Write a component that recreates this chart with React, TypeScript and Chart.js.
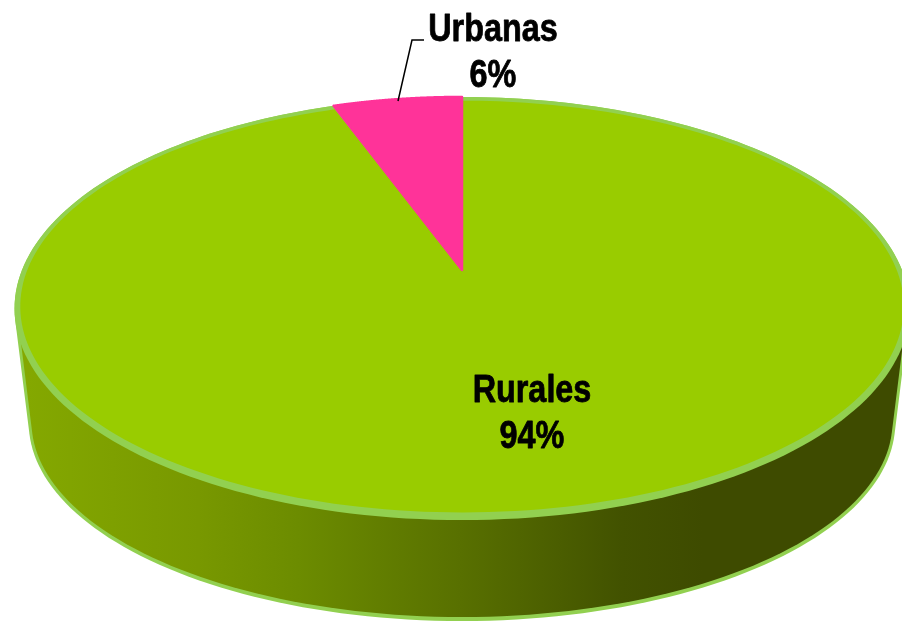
import React, { useEffect, useRef } from "react";
import { Chart, registerables } from "chart.js";

Chart.register(...registerables);

const categories = ["Rurales", "Urbanas"];
const shares = [94.45, 5.55];
const sliceColors = ["#99CC00", "#FF3399"];

type Pt = { x: number; y: number };

// Perspective of the pie's top face and of its lower rim
const X0 = 462;
const K = 0.182;
const topFace = { c: 440, a: 155.4, b: 270 };
const lowFace = { c: 426, a: 121, b: 387 };
const RIM = "#92D050";

const project = (f: { c: number; a: number; b: number }, u: number, v: number): Pt => {
  const w = 1 - K * v;
  return { x: X0 + (f.c * u) / w, y: (f.a * v + f.b) / w };
};

const ring = (f: any, su: number, sv: number, start = 0, end = Math.PI * 2, n = 240): Pt[] => {
  const out: Pt[] = [];
  for (let i = 0; i <= n; i++) {
    const t = start + ((end - start) * i) / n;
    out.push(project(f, Math.cos(t) * su, Math.sin(t) * sv));
  }
  return out;
};

const hull = (pts: Pt[]): Pt[] => {
  const p = [...pts].sort((a, b) => a.x - b.x || a.y - b.y);
  const cross = (o: Pt, a: Pt, b: Pt) => (a.x - o.x) * (b.y - o.y) - (a.y - o.y) * (b.x - o.x);
  const lo: Pt[] = [];
  for (const q of p) {
    while (lo.length >= 2 && cross(lo[lo.length - 2], lo[lo.length - 1], q) <= 0) lo.pop();
    lo.push(q);
  }
  const up: Pt[] = [];
  for (const q of p.reverse()) {
    while (up.length >= 2 && cross(up[up.length - 2], up[up.length - 1], q) <= 0) up.pop();
    up.push(q);
  }
  return lo.slice(0, -1).concat(up.slice(0, -1));
};

const trace = (ctx: CanvasRenderingContext2D, pts: Pt[]) => {
  ctx.beginPath();
  pts.forEach((p, i) => (i ? ctx.lineTo(p.x, p.y) : ctx.moveTo(p.x, p.y)));
  ctx.closePath();
};

const piePlugin = {
  id: "perspectivePie",
  beforeDatasetsDraw(chart: any) {
    const ctx: CanvasRenderingContext2D = chart.ctx;
    const arcs = chart.getDatasetMeta(0).data;
    ctx.save();

    // side wall
    trace(ctx, hull([...ring(topFace, 1, 1), ...ring(lowFace, 1, 1)]));
    ctx.fillStyle = RIM;
    ctx.fill();
    const g = ctx.createLinearGradient(0, 0, 902, 0);
    g.addColorStop(0.03, "#84A800");
    g.addColorStop(0.22, "#789800");
    g.addColorStop(0.33, "#6C8C00");
    g.addColorStop(0.51, "#587000");
    g.addColorStop(0.69, "#425200");
    g.addColorStop(0.78, "#3E4B00");
    g.addColorStop(1, "#3E4B00");
    trace(ctx, hull([...ring(topFace, 0.994, 0.99), ...ring(lowFace, 0.994, 0.986)]));
    ctx.fillStyle = g;
    ctx.fill();

    // top face rim
    trace(ctx, ring(topFace, 1, 1));
    ctx.fillStyle = RIM;
    ctx.fill();

    // slices
    arcs.forEach((arc: any, i: number) => {
      const small = shares[i] < 50;
      const su = small ? 1 : 0.988;
      const sv = small ? 1 : 0.975;
      const pts = [project(topFace, 0, 0), ...ring(topFace, su, sv, arc.startAngle, arc.endAngle)];
      trace(ctx, pts);
      ctx.fillStyle = sliceColors[i];
      ctx.fill();
      if (small) {
        ctx.strokeStyle = sliceColors[i];
        ctx.lineWidth = 2.5;
        ctx.lineJoin = "round";
        ctx.stroke();
      }
    });
    ctx.restore();
    return false;
  },
  afterDraw(chart: any) {
    const ctx: CanvasRenderingContext2D = chart.ctx;
    ctx.save();

    // leader line
    ctx.beginPath();
    ctx.moveTo(398, 101);
    ctx.lineTo(412, 40);
    ctx.lineTo(424, 40);
    ctx.strokeStyle = "#000";
    ctx.lineWidth = 1.5;
    ctx.stroke();

    // labels
    const spots = [
      { x: 532, y: [402, 448] },
      { x: 493, y: [41, 87] },
    ];
    const total = shares.reduce((s, v) => s + v, 0);
    ctx.fillStyle = "#000";
    ctx.strokeStyle = "#000";
    ctx.lineWidth = 0.8;
    ctx.lineJoin = "round";
    ctx.font = 'bold 39px "Liberation Sans"';
    ctx.textAlign = "center";
    categories.forEach((name, i) => {
      const lines = [name, `${Math.round((shares[i] / total) * 100)}%`];
      lines.forEach((t, j) => {
        ctx.save();
        ctx.translate(spots[i].x, spots[i].y[j]);
        ctx.scale(0.83, 1);
        ctx.fillText(t, 0, 0);
        ctx.strokeText(t, 0, 0);
        ctx.restore();
      });
    });
    ctx.restore();
  },
};

export default function App() {
  const ref = useRef<HTMLCanvasElement>(null);
  useEffect(() => {
    document.body.style.margin = "0";
    const chart = new Chart(ref.current!, {
      type: "pie",
      data: {
        labels: categories,
        datasets: [{ data: shares, backgroundColor: sliceColors, borderWidth: 0 }],
      },
      options: {
        animation: false,
        responsive: false,
        plugins: { legend: { display: false }, tooltip: { enabled: false } },
      },
      plugins: [piePlugin],
    } as any);
    return () => chart.destroy();
  }, []);
  return <canvas ref={ref} width={902} height={621} style={{ display: "block" }} />;
}
